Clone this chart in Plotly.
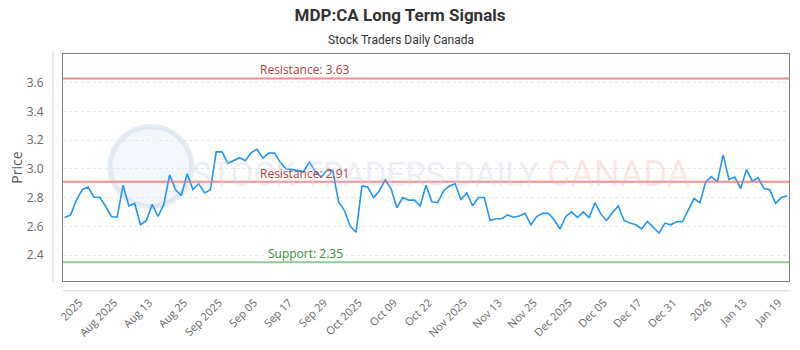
import plotly.graph_objects as go

# ---- data ----
prices = [
    2.662, 2.680, 2.783, 2.856, 2.874, 2.803, 2.803, 2.742, 2.669, 2.664,
    2.886, 2.742, 2.760, 2.611, 2.641, 2.753, 2.669, 2.753, 2.959, 2.856,
    2.813, 2.966, 2.856, 2.897, 2.833, 2.856, 3.119, 3.119, 3.039, 3.057,
    3.078, 3.057,
    3.114, 3.137, 3.075, 3.110, 3.110, 3.046, 3.000, 2.995, 2.989, 2.982,
    3.048, 2.982, 2.943, 2.989, 2.989, 2.771, 2.710, 2.600, 2.559, 2.881,
    2.874, 2.801, 2.847, 2.925, 2.863, 2.730, 2.801, 2.783, 2.783, 2.742,
    2.886, 2.771, 2.765, 2.847, 2.881, 2.897, 2.787, 2.833, 2.744, 2.801,
    2.801, 2.641, 2.653, 2.653, 2.680, 2.664, 2.673, 2.691, 2.611, 2.669,
    2.691, 2.691, 2.646, 2.582, 2.669, 2.701, 2.662, 2.701, 2.662, 2.765,
    2.687,
    2.641, 2.696, 2.742, 2.641, 2.623, 2.611, 2.582, 2.634, 2.595, 2.554,
    2.623, 2.611, 2.632, 2.632, 2.714, 2.794, 2.765, 2.909, 2.947, 2.909,
    3.098, 2.927, 2.943, 2.863, 2.995, 2.915, 2.938, 2.863, 2.856, 2.760,
    2.801, 2.813,
]
x_index = list(range(len(prices)))

tick_labels = ["2025", "Aug 2025", "Aug 13", "Aug 25", "Sep 2025", "Sep 05",
               "Sep 17", "Sep 29", "Oct 2025", "Oct 09", "Oct 22", "Nov 2025",
               "Nov 13", "Nov 25", "Dec 2025", "Dec 05", "Dec 17", "Dec 31",
               "2026", "Jan 13", "Jan 19"]
tick_positions = [2.5, 8.5, 14.5, 20.5, 26.5, 32.5, 38.5, 44.5, 50.5, 56.5,
                  62.5, 68.5, 74.5, 80.5, 86.5, 92.5, 98.5, 104.5, 110.5,
                  116.5, 122.5]

resistance_high = 3.63
resistance_low = 2.91
support = 2.35

title_text = "MDP:CA Long Term Signals"
subtitle_text = "Stock Traders Daily Canada"

# ---- figure ----
fig = go.Figure()
fig.add_trace(go.Scatter(
    x=x_index, y=prices, mode="lines",
    line=dict(color="#2196f3", width=1.6),
    hoverinfo="skip", showlegend=False,
))

x_last = len(prices) - 1
for lvl, col in [(resistance_high, "rgba(236,110,110,0.75)"),
                 (resistance_low, "rgba(236,110,110,0.75)"),
                 (support, "rgba(110,185,110,0.75)")]:
    fig.add_shape(type="line", xref="paper", x0=0, x1=1, yref="y",
                  y0=lvl, y1=lvl, line=dict(color=col, width=2), layer="above")

# watermark
fig.add_shape(type="circle", xref="paper", yref="paper",
              x0=(110 - 63) / 727, x1=(192 - 63) / 727,
              y0=(286 - 210) / 232, y1=(286 - 128) / 232,
              line=dict(color="rgba(200,212,232,0.45)", width=5),
              fillcolor="rgba(215,225,242,0.30)", layer="below")
fig.add_annotation(xref="paper", yref="paper", x=(366 - 63) / 727,
                   y=(286 - 177) / 232, xanchor="center", yanchor="middle",
                   text="STOCK TRADERS DAILY", showarrow=False,
                   font=dict(family="Roboto", size=33,
                             color="rgba(200,210,228,0.35)"))
fig.add_annotation(xref="paper", yref="paper", x=(620 - 63) / 727,
                   y=(286 - 177) / 232, xanchor="center", yanchor="middle",
                   text="CANADA", showarrow=False,
                   font=dict(family="Roboto", size=36,
                             color="rgba(245,170,170,0.28)"))

# level labels
label_font = "Open Sans"
fig.add_annotation(x=33.1, y=resistance_high, text=f"Resistance: {resistance_high:.2f}",
                   xanchor="left", yanchor="bottom", showarrow=False, yshift=-2,
                   font=dict(family=label_font, size=12, color="#b83a3a"))
fig.add_annotation(x=33.1, y=resistance_low, text=f"Resistance: {resistance_low:.2f}",
                   xanchor="left", yanchor="bottom", showarrow=False, yshift=-2,
                   font=dict(family=label_font, size=12, color="#b83a3a"))
fig.add_annotation(x=34.5, y=support, text=f"Support: {support:.2f}",
                   xanchor="left", yanchor="bottom", showarrow=False, yshift=-2,
                   font=dict(family=label_font, size=12, color="#3a8a3a"))

# outer light lines
fig.add_shape(type="line", xref="paper", yref="paper",
              x0=-10 / 727, x1=-10 / 727, y0=-1 / 232, y1=1.01,
              line=dict(color="#d0d0d0", width=1))
fig.add_shape(type="line", xref="paper", yref="paper",
              x0=0, x1=1, y0=-10 / 232, y1=-10 / 232,
              line=dict(color="#d0d0d0", width=1))

fig.add_annotation(xref="paper", yref="paper", x=(401 - 63) / 727,
                   y=(286 - 40) / 232, yanchor="middle", text=subtitle_text,
                   showarrow=False,
                   font=dict(family="Roboto", size=12, color="#333"))

fig.update_layout(
    width=800, height=350,
    margin=dict(l=63, r=10, t=54, b=64),
    paper_bgcolor="white", plot_bgcolor="white",
    title=dict(text=f"<b>{title_text}</b>", x=0.5, xanchor="center",
               y=1 - 15 / 350, yanchor="middle",
               font=dict(family="Roboto", size=17, color="#333")),
    xaxis=dict(
        range=[-0.3, x_last + 0.3],
        tickmode="array", tickvals=tick_positions, ticktext=tick_labels,
        tickangle=-45, showgrid=False, zeroline=False,
        showline=True, linecolor="#808080", linewidth=1, mirror=True,
        ticks="", ticklabelstandoff=10,
        tickfont=dict(family="Open Sans", size=11, color="#666"),
    ),
    yaxis=dict(
        range=[2.22, 3.80], tickvals=[2.4, 2.6, 2.8, 3.0, 3.2, 3.4, 3.6],
        ticktext=["2.4", "2.6", "2.8", "3.0", "3.2", "3.4", "3.6"],
        showgrid=True, gridcolor="#e6e6e6", griddash="dot", zeroline=False,
        showline=True, linecolor="#808080", linewidth=1, mirror=True,
        ticks="", ticklabelstandoff=16,
        tickfont=dict(family="Open Sans", size=12, color="#666"),
        title=dict(text="Price", standoff=0,
                   font=dict(family="Open Sans", size=14, color="#555")),
    ),
)

fig.write_html("out.html")
